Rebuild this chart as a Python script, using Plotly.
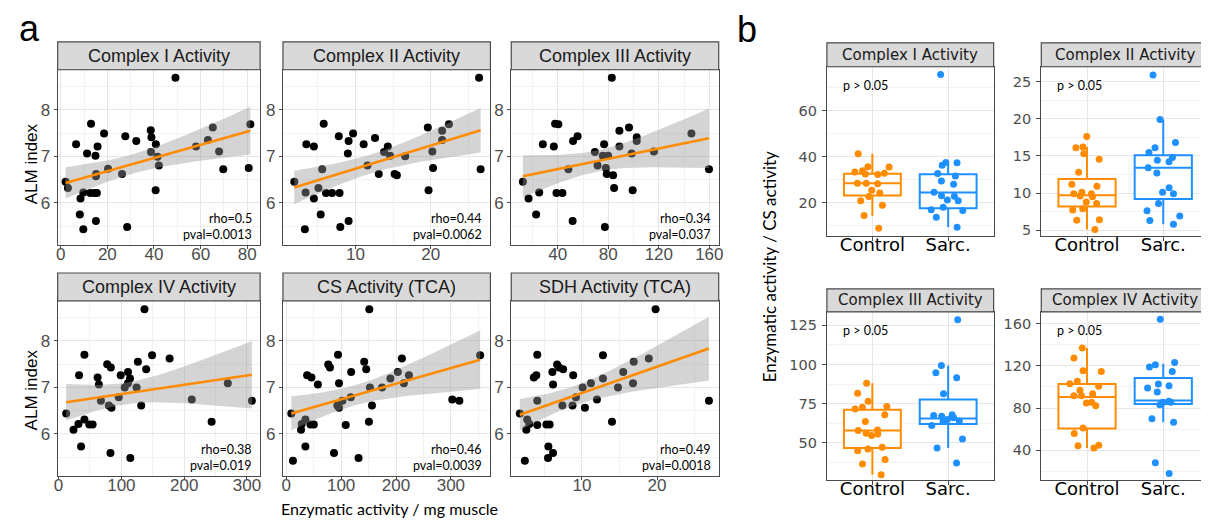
import numpy as np
import plotly.graph_objects as go

W, H = 1209, 523

# ---------------- Panel a data (x = enzymatic activity / mg muscle, y = ALM index) ----------------
c1_x = [49.2, 13.0, 81.3, 18.6, 27.7, 38.6, 38.9, 32.4, 6.6, 40.8, 15.8, 11.3, 14.9, 38.7, 41.5, 42.1,
        20.3, 26.3, 15.2, 15.1, 2.1, 3.1, 9.7, 12.7, 14.4, 15.5, 8.5, 40.7, 8.2, 15.1, 9.7, 28.5,
        58.0, 63.1, 65.2, 67.9, 69.7, 80.6]
c1_y = [8.69, 7.70, 7.69, 7.49, 7.43, 7.56, 7.41, 7.33, 7.26, 7.26, 7.21, 7.06, 7.01, 7.09, 6.99, 6.80,
        6.73, 6.62, 6.62, 6.57, 6.45, 6.32, 6.22, 6.21, 6.21, 6.21, 6.09, 6.27, 5.75, 5.61, 5.43, 5.48,
        7.21, 7.35, 7.62, 7.10, 6.72, 6.75]

c2_x = [26.4, 5.8, 22.4, 9.7, 7.8, 19.6, 21.5, 9.1, 12.6, 3.5, 11.1, 4.5, 14.3, 9.0, 13.8, 14.6, 16.6,
        21.5, 20.2, 20.3, 26.6, 11.6, 5.6, 13.1, 15.2, 15.5, 1.9, 5.1, 3.4, 6.1, 6.9, 7.9, 4.5, 19.7,
        5.4, 9.1, 3.3, 8.0]
c2_y = [8.69, 7.70, 7.69, 7.49, 7.43, 7.62, 7.55, 7.33, 7.39, 7.26, 7.26, 7.21, 7.21, 7.06, 7.09, 7.01, 7.00,
        7.35, 7.10, 6.75, 6.72, 6.80, 6.72, 6.62, 6.62, 6.59, 6.45, 6.32, 6.22, 6.21, 6.21, 6.21, 6.09, 6.27,
        5.75, 5.61, 5.43, 5.48]

c3_x = [82.8, 37.9, 40.5, 55.7, 52.1, 88.8, 96.4, 102.5, 102.5, 145.8, 28.2, 36.9, 76.7, 88.8, 69.4, 75.7,
        79.9, 98.5, 116.1, 159.7, 71.5, 78.1, 48.4, 78.8, 83.8, 12.4, 84.6, 25.3, 39.0, 43.7, 16.9, 99.3,
        22.9, 51.8, 77.3]
c3_y = [8.69, 7.70, 7.69, 7.43, 7.33, 7.55, 7.62, 7.41, 7.33, 7.49, 7.26, 7.21, 7.26, 7.21, 7.09, 7.01,
        7.01, 7.06, 7.10, 6.72, 6.80, 6.75, 6.72, 6.62, 6.59, 6.45, 6.32, 6.22, 6.21, 6.21, 6.09, 6.27,
        5.75, 5.61, 5.48]

c4_x = [136.8, 41.1, 148.9, 176.8, 77.4, 83.2, 126.3, 139.5, 110.5, 32.6, 98.9, 62.1, 113.7, 64.2, 110.5,
        105.3, 124.2, 269.5, 95.8, 67.4, 212.1, 307.9, 80.0, 84.2, 131.6, 12.1, 41.1, 31.6, 23.7, 48.9,
        54.2, 243.7, 35.8, 82.6, 114.2]
c4_y = [8.68, 7.70, 7.69, 7.62, 7.50, 7.43, 7.55, 7.39, 7.33, 7.26, 7.26, 7.21, 7.19, 7.06, 7.09,
        7.00, 7.00, 7.09, 6.79, 6.71, 6.74, 6.71, 6.61, 6.56, 6.61, 6.44, 6.31, 6.21, 6.09, 6.20,
        6.20, 6.26, 5.73, 5.59, 5.48]

cs_x = [151.3, 94.3, 353.3, 76.5, 79.6, 142.0, 145.7, 210.7, 118.2, 203.3, 38.0, 45.9, 223.5, 189.8, 57.6,
        96.1, 214.3, 152.5, 174.5, 117.6, 102.3, 302.5, 315.4, 93.1, 96.1, 156.2, 9.2, 34.9, 28.2, 26.9,
        44.1, 50.2, 108.4, 150.6, 34.9, 87.0, 131.7, 12.2]
cs_y = [8.68, 7.70, 7.69, 7.49, 7.43, 7.55, 7.39, 7.62, 7.33, 7.33, 7.26, 7.21, 7.26, 7.19, 7.06,
        7.09, 7.09, 7.00, 7.00, 6.79, 6.71, 6.74, 6.71, 6.61, 6.56, 6.61, 6.44, 6.31, 6.21, 6.09,
        6.20, 6.20, 6.19, 6.26, 5.73, 5.59, 5.48, 5.42]

sdh_x = [19.8, 4.06, 12.8, 18.9, 6.7, 6.96, 16.9, 7.5, 6.07, 15.5, 3.93, 3.6, 8.84, 12.8, 6.16, 11.2, 16.8,
         10.1, 14.8, 9.2, 4.06, 12.0, 26.9, 7.4, 10.4, 8.75, 1.74, 2.72, 3.0, 2.6, 5.27, 5.71, 4.06, 14.0,
         5.54, 6.16, 5.49, 2.41]
sdh_y = [8.68, 7.70, 7.69, 7.62, 7.49, 7.43, 7.55, 7.39, 7.33, 7.33, 7.26, 7.21, 7.26, 7.19, 7.06, 7.09, 7.09,
         7.00, 7.00, 6.79, 6.71, 6.74, 6.71, 6.61, 6.56, 6.61, 6.44, 6.31, 6.21, 6.09, 6.20, 6.20, 6.19, 6.26,
         5.73, 5.59, 5.48, 5.42]

a_titles = ["Complex I Activity", "Complex II Activity", "Complex III Activity",
            "Complex IV Activity", "CS Activity (TCA)", "SDH Activity (TCA)"]
a_rho = ["rho=0.5", "rho=0.44", "rho=0.34", "rho=0.38", "rho=0.46", "rho=0.49"]
a_pval = ["pval=0.0013", "pval=0.0062", "pval=0.037", "pval=0.019", "pval=0.0039", "pval=0.0018"]

# ---------------- Panel b data (enzymatic activity / CS activity) ----------------
groups = ["Control", "Sarc."]
b_titles = ["Complex I Activity", "Complex II Activity", "Complex III Activity", "Complex IV Activity"]

b1_ctrl = [41.4, 35.7, 35.6, 34.0, 33.4, 32.9, 32.6, 32.3, 28.6, 28.5, 28.3, 25.5, 24.3, 22.8, 21.0, 19.0, 14.5, 9.0]
b1_sarc = [75.7, 37.5, 37.4, 36.4, 32.8, 31.7, 29.5, 28.1, 24.6, 23.1, 22.9, 21.3, 20.9, 18.1, 17.0, 16.7, 13.8, 9.5]
b2_ctrl = [17.6, 16.2, 16.1, 15.3, 14.55, 12.8, 11.2, 10.9, 10.1, 9.9, 9.9, 9.6, 9.5, 8.8, 8.6, 7.9, 7.7, 6.4, 6.35, 5.1]
b2_sarc = [25.9, 19.9, 16.8, 16.1, 15.45, 14.8, 14.4, 14.2, 13.4, 12.7, 10.7, 10.1, 9.9, 8.6, 7.6, 6.9, 6.3, 5.8]
b3_ctrl = [88.1, 81.7, 76.6, 73.2, 72.8, 71.7, 67.9, 63.6, 58.3, 57.9, 56.2, 55.7, 54.7, 47.2, 46.2, 45.1, 39.4, 36.6, 29.8]
b3_sarc = [128.5, 99.4, 94.7, 91.5, 81.3, 68.0, 67.5, 67.0, 66.0, 65.0, 64.0, 63.6, 61.1, 52.6, 46.8, 37.2]
b4_ctrl = [136.7, 127.2, 115.3, 114.6, 105.2, 103.0, 100.5, 96.7, 93.5, 91.6, 91.6, 85.4, 84.7, 82.2, 61.1, 55.8, 44.7, 44.4, 42.2]
b4_sarc = [164.0, 123.1, 120.9, 118.7, 114.6, 102.7, 101.1, 98.9, 95.1, 86.3, 85.4, 85.4, 83.1, 69.9, 66.5, 28.1, 18.0]

# box summaries: [Control, Sarc.]
b_q1 = [[23.2, 17.7], [8.2, 9.2], [46.8, 62.1], [60.5, 83.8]]
b_med = [[28.5, 24.5], [9.7, 13.4], [57.9, 65.5], [90.4, 87.2]]
b_q3 = [[32.7, 32.4], [11.9, 15.1], [71.1, 77.7], [102.7, 108.3]]
b_lo = [[14.4, 9.5], [5.1, 5.8], [29.8, 46.8], [42.2, 66.5]]
b_hi = [[41.4, 37.5], [16.2, 19.9], [88.1, 99.4], [136.7, 121.9]]

# ---------------- layout helpers ----------------
def fx(p):
    return p / W

def fy(p):
    return 1 - p / H

ORANGE = "#FF8C00"
BLUE = "#1E90FF"
BORDER = "#4a4a4a"
GRID = "#E6E6E6"
MINOR = "#F2F2F2"
STRIP = "#D9D9D9"

a_cols = [(46, 250), (273, 482), (503, 712)]
a_rows = [(34, 62, 238), (266, 294, 470)]  # strip top, plot top, plot bottom
b_cols = [(821, 989), (1037, 1206)]
b_rows = [(35, 59, 229), (282, 305, 474)]

a_xranges = [[-1.3, 85.5], [0.4, 27.9], [3.2, 167.4], [-1.5, 321], [-6, 372], [0.6, 28.2]]
a_dtick = [20, 10, 40, 100, 100, 10]
b_yranges = [[5.6, 79.1], [4.2, 27.0], [26.3, 133.5], [11.7, 171]]
b_dtick = [20, 5, 25, 40]

a_data = [(c1_x, c1_y), (c2_x, c2_y), (c3_x, c3_y), (c4_x, c4_y), (cs_x, cs_y), (sdh_x, sdh_y)]
b_data = [(b1_ctrl, b1_sarc), (b2_ctrl, b2_sarc), (b3_ctrl, b3_sarc), (b4_ctrl, b4_sarc)]

fig = go.Figure()
layout = dict(width=W, height=H, margin=dict(l=0, r=0, t=0, b=0), paper_bgcolor="white",
              plot_bgcolor="white", showlegend=False, boxmode="overlay")
shapes = []
annotations = []

A_FONT = "Liberation Sans, Arial, sans-serif"
B_FONT = "DejaVu Sans, sans-serif"
C_FONT = "Lato, Carlito, sans-serif"


def lm_band(x, y):
    x = np.asarray(x, float)
    y = np.asarray(y, float)
    n = len(x)
    b, a = np.polyfit(x, y, 1)
    res = y - (a + b * x)
    s = np.sqrt(np.sum(res ** 2) / (n - 2))
    xbar = x.mean()
    sxx = np.sum((x - xbar) ** 2)
    df = n - 2
    z = 1.959964
    t = z + (z ** 3 + z) / (4 * df) + (5 * z ** 5 + 16 * z ** 3 + 3 * z) / (96 * df ** 2)
    xs = np.linspace(x.min(), x.max(), 80)
    ys = a + b * xs
    se = s * np.sqrt(1 / n + (xs - xbar) ** 2 / sxx)
    return xs, ys, ys - t * se, ys + t * se


# ---------------- Panel a ----------------
for i in range(6):
    k = i + 1
    r, c = divmod(i, 3)
    l, rr = a_cols[c]
    st, pt, pb = a_rows[r]
    xn = "x" if k == 1 else f"x{k}"
    yn = "y" if k == 1 else f"y{k}"
    x, y = a_data[i]
    fig.add_trace(go.Scatter(x=x, y=y, mode="markers", xaxis=xn, yaxis=yn,
                             marker=dict(color="black", size=8), hoverinfo="skip"))
    xs, ys, lo, hi = lm_band(x, y)
    fig.add_trace(go.Scatter(x=np.concatenate([xs, xs[::-1]]), y=np.concatenate([hi, lo[::-1]]),
                             fill="toself", fillcolor="rgba(153,153,153,0.42)", line=dict(width=0),
                             mode="lines", xaxis=xn, yaxis=yn, hoverinfo="skip"))
    fig.add_trace(go.Scatter(x=xs, y=ys, mode="lines", line=dict(color=ORANGE, width=2.6),
                             xaxis=xn, yaxis=yn, hoverinfo="skip"))
    axk = "" if k == 1 else str(k)
    layout["xaxis" + axk] = dict(domain=[fx(l), fx(rr)], anchor=yn, range=a_xranges[i],
                                 dtick=a_dtick[i], tick0=0, showgrid=True, gridcolor=GRID, gridwidth=1.2,
                                 minor=dict(dtick=a_dtick[i] / 2, tick0=0, showgrid=True, gridcolor=MINOR,
                                            gridwidth=0.7),
                                 zeroline=False, showline=True, mirror=True, linecolor=BORDER, linewidth=1.2,
                                 ticks="outside", ticklen=3, tickcolor=BORDER, ticklabelstandoff=-10,
                                 tickfont=dict(family=A_FONT, size=17, color="#4D4D4D"))
    layout["yaxis" + axk] = dict(domain=[fy(pb), fy(pt)], anchor=xn, range=[5.09, 8.86],
                                 dtick=1, tick0=0, showgrid=True, gridcolor=GRID, gridwidth=1.2,
                                 minor=dict(dtick=0.5, tick0=0, showgrid=True, gridcolor=MINOR, gridwidth=0.7),
                                 zeroline=False, showline=True, mirror=True, linecolor=BORDER, linewidth=1.2,
                                 ticks="outside", ticklen=3, tickcolor=BORDER,
                                 tickfont=dict(family=A_FONT, size=17, color="#4D4D4D"))
    shapes.append(dict(type="rect", xref="paper", yref="paper", x0=fx(l), x1=fx(rr), y0=fy(pt), y1=fy(st),
                       fillcolor=STRIP, line=dict(color=BORDER, width=1.2), layer="above"))
    annotations.append(dict(xref="paper", yref="paper", x=fx((l + rr) / 2), y=fy((st + pt) / 2),
                            text=a_titles[i], showarrow=False, xanchor="center", yanchor="middle",
                            font=dict(family=A_FONT, size=18, color="#1A1A1A")))
    annotations.append(dict(xref="paper", yref="paper", x=fx(rr - 6), y=fy(pb - 27), text=a_rho[i],
                            showarrow=False, xanchor="right", yanchor="middle",
                            font=dict(family=C_FONT, size=12.5, color="black")))
    annotations.append(dict(xref="paper", yref="paper", x=fx(rr - 6), y=fy(pb - 11), text=a_pval[i],
                            showarrow=False, xanchor="right", yanchor="middle",
                            font=dict(family=C_FONT, size=12.5, color="black")))

# ---------------- Panel b ----------------
for i in range(4):
    k = i + 7
    r, c = divmod(i, 2)
    l, rr = b_cols[c]
    st, pt, pb = b_rows[r]
    xn, yn = f"x{k}", f"y{k}"
    for g, col in enumerate([ORANGE, BLUE]):
        fig.add_trace(go.Box(x=[g + 1], q1=[b_q1[i][g]], median=[b_med[i][g]], q3=[b_q3[i][g]],
                             lowerfence=[b_lo[i][g]], upperfence=[b_hi[i][g]], width=0.75,
                             whiskerwidth=0, boxpoints=False, fillcolor="white",
                             line=dict(color=col, width=2), xaxis=xn, yaxis=yn, hoverinfo="skip"))
        fig.add_trace(go.Box(y=b_data[i][g], x0=g + 1, width=0.75, boxpoints="all", jitter=0.75,
                             pointpos=0, fillcolor="rgba(0,0,0,0)", line=dict(color="rgba(0,0,0,0)", width=0),
                             marker=dict(color=col, size=7), xaxis=xn, yaxis=yn, hoverinfo="skip"))
    layout[f"xaxis{k}"] = dict(domain=[fx(l), fx(rr)], anchor=yn, range=[0.4, 2.6],
                               tickvals=[1, 2], ticktext=groups, showgrid=True, gridcolor=GRID, gridwidth=1.2,
                               zeroline=False, showline=True, mirror=True, linecolor=BORDER, linewidth=1.2,
                               ticks="outside", ticklen=4, tickcolor=BORDER, ticklabelstandoff=-12,
                               tickfont=dict(family=B_FONT, size=18, color="black"))
    layout[f"yaxis{k}"] = dict(domain=[fy(pb), fy(pt)], anchor=xn, range=b_yranges[i],
                               dtick=b_dtick[i], tick0=0, showgrid=True, gridcolor=GRID, gridwidth=1.2,
                               minor=dict(dtick=b_dtick[i] / 2, tick0=0, showgrid=True, gridcolor=MINOR,
                                          gridwidth=0.7),
                               zeroline=False, showline=True, mirror=True, linecolor=BORDER, linewidth=1.2,
                               ticks="outside", ticklen=4, tickcolor=BORDER, ticklabelstandoff=2,
                               tickfont=dict(family=B_FONT, size=14.5, color="#4D4D4D"))
    shapes.append(dict(type="rect", xref="paper", yref="paper", x0=fx(l), x1=fx(rr), y0=fy(pt), y1=fy(st),
                       fillcolor=STRIP, line=dict(color=BORDER, width=1.2), layer="above"))
    annotations.append(dict(xref="paper", yref="paper", x=fx((l + rr) / 2), y=fy((st + pt) / 2),
                            text=b_titles[i], showarrow=False, xanchor="center", yanchor="middle",
                            font=dict(family=B_FONT, size=15, color="#1A1A1A")))
    annotations.append(dict(xref="paper", yref="paper", x=fx(l + 14), y=fy(pt + 19), text="p > 0.05",
                            showarrow=False, xanchor="left", yanchor="middle",
                            font=dict(family=C_FONT, size=12.5, color="black")))

# ---------------- labels ----------------
annotations += [
    dict(xref="paper", yref="paper", x=fx(18), y=fy(21), text="a", showarrow=False,
         xanchor="center", yanchor="middle", font=dict(family=A_FONT, size=36, color="black")),
    dict(xref="paper", yref="paper", x=fx(741), y=fy(22), text="b", showarrow=False,
         xanchor="center", yanchor="middle", font=dict(family=A_FONT, size=36, color="black")),
    dict(xref="paper", yref="paper", x=fx(20), y=fy(156), text="ALM index", showarrow=False, textangle=-90,
         xanchor="center", yanchor="middle", font=dict(family=A_FONT, size=17, color="black")),
    dict(xref="paper", yref="paper", x=fx(20), y=fy(383), text="ALM index", showarrow=False, textangle=-90,
         xanchor="center", yanchor="middle", font=dict(family=A_FONT, size=17, color="black")),
    dict(xref="paper", yref="paper", x=fx(380), y=fy(502), text="Enzymatic activity / mg muscle",
         showarrow=False, xanchor="center", yanchor="middle", font=dict(family=C_FONT, size=16, color="black")),
    dict(xref="paper", yref="paper", x=fx(763), y=fy(260), text="Enzymatic activity / CS activity",
         showarrow=False, textangle=-90, xanchor="center", yanchor="middle",
         font=dict(family=C_FONT, size=17, color="black")),
]

layout["shapes"] = shapes
layout["annotations"] = annotations
fig.update_layout(**layout)
fig.write_html("out.html")
